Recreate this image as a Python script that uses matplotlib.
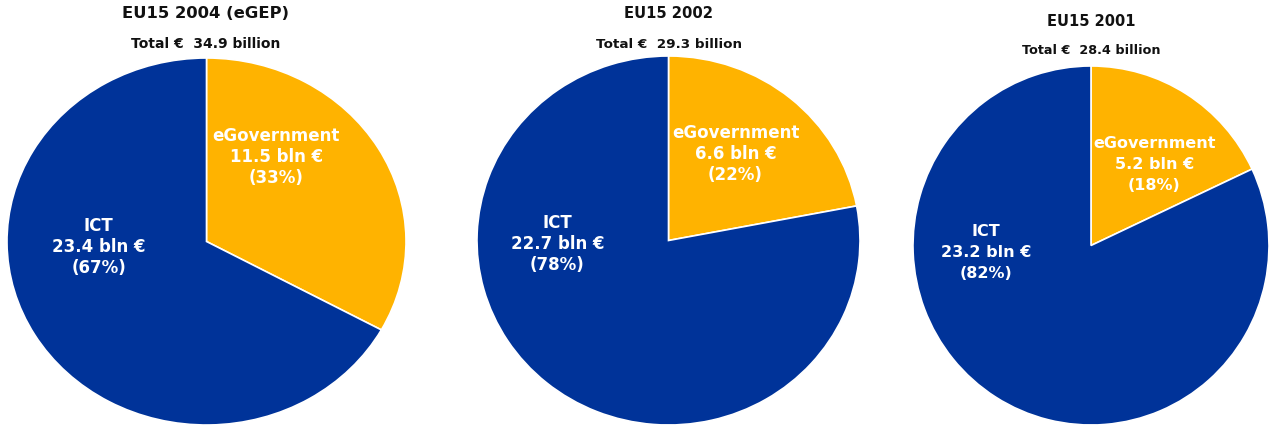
import matplotlib
matplotlib.use("Agg")
import matplotlib.pyplot as plt

# spending per year, billion euro
titles = ["EU15 2004 (eGEP)", "EU15 2002", "EU15 2001"]
egov_bln = [11.5, 6.6, 5.2]
ict_bln = [23.4, 22.7, 23.2]
egov_pct = [33, 22, 18]
ict_pct = [67, 78, 82]

C_EGOV = "#FFB300"
C_ICT = "#003399"

W, H = 1273, 429
fig = plt.figure(figsize=(W / 100, H / 100), dpi=100)

# pie boxes in pixels: left, top, right, bottom
boxes = [(7, 58, 406, 425), (477, 56, 860, 425), (913, 66, 1269, 425)]
# centre x, title y, total y (pixels)
heads = [(206, 13, 44), (669, 14, 44), (1091, 21, 50)]
title_fs = [11.8, 10.6, 10.5]
total_fs = [10, 9.7, 9.2]
label_fs = [12, 12, 11.5]
label_ls = [1.2, 1.2, 1.5]
# label positions inside the pie (axes data units)
egov_xy = [(0.35, 0.46), (0.35, 0.47), (0.355, 0.45)]
ict_xy = [(-0.54, -0.03), (-0.58, -0.02), (-0.59, -0.04)]

font = "DejaVu Sans"

for i in range(3):
	l, t, r, b = boxes[i]
	ax = fig.add_axes([l / W, 1 - b / H, (r - l) / W, (b - t) / H])
	ax.pie([egov_pct[i], ict_pct[i]], colors=[C_EGOV, C_ICT], startangle=90,
		counterclock=False, radius=1.0,
		wedgeprops=dict(edgecolor="white", linewidth=1.2))
	ax.set_aspect("auto")
	ax.set_xlim(-1, 1)
	ax.set_ylim(-1, 1)
	ax.axis("off")

	ex, ey = egov_xy[i]
	ax.text(ex, ey, "eGovernment\n%.1f bln €\n(%d%%)" % (egov_bln[i], egov_pct[i]),
		ha="center", va="center", color="white", fontsize=label_fs[i], fontweight="bold",
		family=font, linespacing=label_ls[i])
	ix, iy = ict_xy[i]
	ax.text(ix, iy, "ICT\n%.1f bln €\n(%d%%)" % (ict_bln[i], ict_pct[i]),
		ha="center", va="center", color="white", fontsize=label_fs[i], fontweight="bold",
		family=font, linespacing=label_ls[i])

	cx, ty, sy = heads[i]
	total = egov_bln[i] + ict_bln[i]
	fig.text(cx / W, 1 - ty / H, titles[i], ha="center", va="center",
		fontsize=title_fs[i], fontweight="bold", family=font, color="#111111")
	fig.text(cx / W, 1 - sy / H, "Total €  %.1f billion" % total, ha="center", va="center",
		fontsize=total_fs[i], fontweight="bold", family=font, color="#111111")

fig.savefig("out.png", dpi=100, facecolor="white")
